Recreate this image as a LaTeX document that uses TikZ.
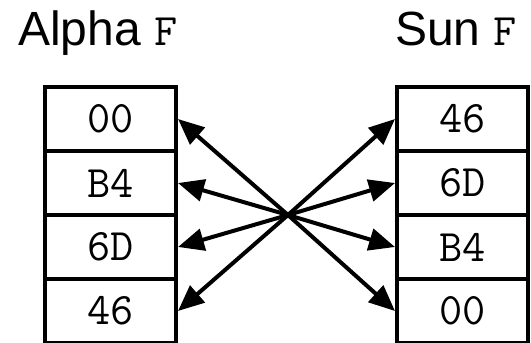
\documentclass[tikz,border=0pt]{standalone}
\usepackage{fontspec}
\setmainfont{Liberation Sans}
\usetikzlibrary{arrows.meta}
\newcommand\courtext{\ttfamily\addfontfeatures{FakeStretch=1.12,LetterSpace=6}\fontsize{45}{45}\selectfont}
\begin{document}
\begin{tikzpicture}[x=1pt,y=-1pt,
  cell/.style={draw,line width=4pt,minimum width=131pt,minimum height=64pt,inner sep=0pt,font=\courtext},
  title/.style={anchor=base west,inner sep=0pt,font=\fontsize{48}{48}\selectfont},
  arr/.style={line width=4pt,-{Triangle[length=26pt,width=22pt]}}]
\useasboundingbox (0,0) rectangle (531,343);
\node[title] (ta) at (18,45) {Alpha {\courtext F}};
\node[title] (ts) at (395,45) {Sun {\courtext F}};
\node[cell] (l1) at (110.5,119) {00};
\node[cell] (l2) at (110.5,183) {B4};
\node[cell] (l3) at (110.5,247) {6D};
\node[cell] (l4) at (110.5,311) {46};
\node[cell] (r1) at (462.5,119) {46};
\node[cell] (r2) at (462.5,183) {6D};
\node[cell] (r3) at (462.5,247) {B4};
\node[cell] (r4) at (462.5,311) {00};
\coordinate (c) at (288,215);
\foreach \n in {l1,l2,l3,l4} \draw[arr] (c) -- (\n.east);
\foreach \n in {r1,r2,r3,r4} \draw[arr] (c) -- (\n.west);
\end{tikzpicture}
\end{document}
